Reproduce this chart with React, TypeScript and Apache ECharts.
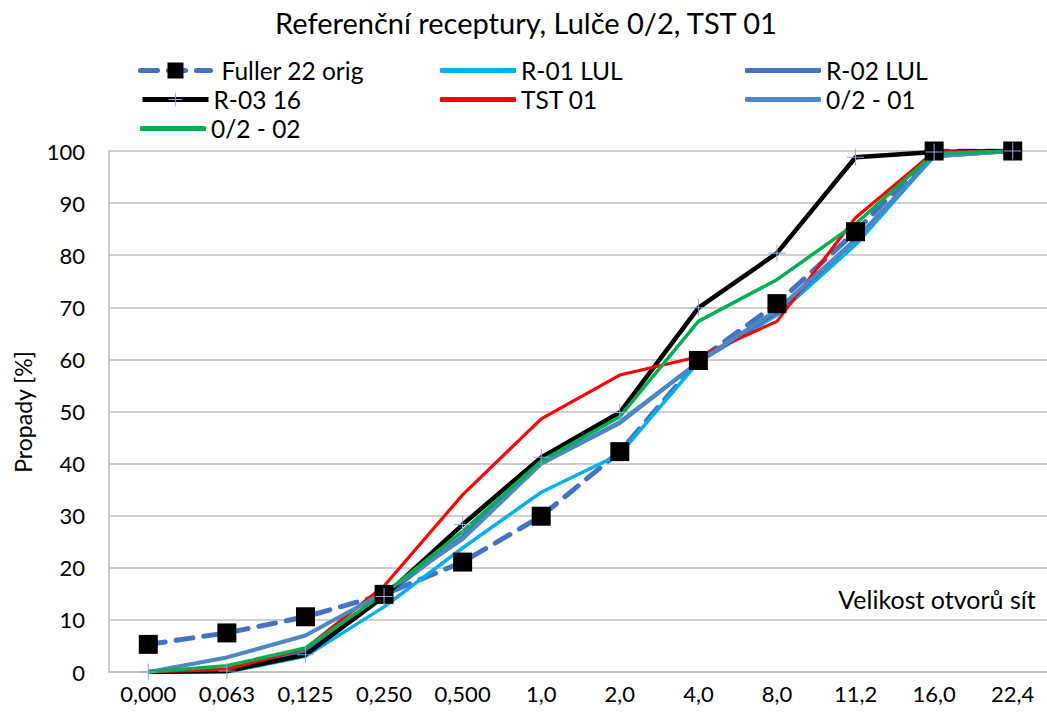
import React, { useEffect, useRef } from "react";
import * as echarts from "echarts";

const categories = ["0,000", "0,063", "0,125", "0,250", "0,500", "1,0", "2,0", "4,0", "8,0", "11,2", "16,0", "22,4"];
const fuller = [5.3, 7.5, 10.6, 14.9, 21.1, 29.9, 42.3, 59.8, 70.7, 84.5, 100, 100];
const r01 = [0, 0, 3.0, 12.5, 23.8, 34.5, 41.8, 59.5, 68.5, 82.0, 99.0, 100];
const r02 = [0, 0.5, 4.0, 14.5, 26.0, 40.0, 47.8, 59.5, 69.0, 83.0, 99.0, 100];
const r03 = [0, 0.2, 3.3, 14.5, 28.3, 41.2, 49.8, 69.9, 80.4, 98.8, 99.8, 100];
const tst01 = [0, 0.5, 4.5, 16.5, 34.0, 48.6, 57.0, 60.5, 67.3, 87.2, 99.8, 100];
const o201 = [0, 2.8, 7.0, 15.2, 25.5, 40.0, 48.0, 59.5, 69.5, 83.0, 99.0, 100];
const o202 = [0, 1.2, 4.6, 15.0, 27.0, 40.5, 49.0, 67.3, 75.3, 86.0, 99.5, 100];

const FONT = "Lato, 'Noto Sans', sans-serif";
const PLUS = "path://M9.4,0h1.2v9.4h9.4v1.2h-9.4v9.4h-1.2v-9.4h-9.4v-1.2h9.4z";

export default function App() {
  const ref = useRef<HTMLDivElement>(null);
  useEffect(() => {
    if (!ref.current) return;
    const chart = echarts.init(ref.current, null, { renderer: "svg" });
    const legendText = { fontFamily: FONT, fontSize: 24.5, color: "#000" };
    const mkLegend = (name: string, left: number, top: number, w: number, opts: any = {}) => ({
      data: [name],
      left,
      top,
      itemWidth: w,
      itemHeight: 5,
      itemGap: 0,
      padding: 0,
      icon: "roundRect",
      textStyle: { ...legendText },
      ...opts,
    });
    const line = (name: string, data: number[], color: string, width: number, extra: any = {}) => ({
      name,
      type: "line",
      data,
      symbol: "none",
      lineStyle: { color, width },
      itemStyle: { color },
      ...extra,
    });
    chart.setOption({
      animation: false,
      title: {
        text: "Referenční receptury, Lulče 0/2, TST 01",
        left: "center",
        top: 3,
        padding: [5, 10, 5, 0],
        textStyle: { fontFamily: FONT, fontSize: 29, fontWeight: "normal", color: "#000" },
      },
      legend: [
        mkLegend("Fuller 22 orig", 138, 58, 70, {
          icon: undefined,
          itemHeight: 20,
          lineStyle: { width: 5 },
          textStyle: { ...legendText, padding: [0, 0, 0, 6] },
        }),
        mkLegend("R-01 LUL", 440, 58, 76),
        mkLegend("R-02 LUL", 745, 58, 76),
        mkLegend("R-03 16", 140, 87, 66, {
          icon: undefined,
          itemHeight: 17,
          lineStyle: { width: 5 },
        }),
        mkLegend("TST 01", 440, 87, 76),
        mkLegend("0/2 - 01", 745, 87, 76),
        mkLegend("0/2 - 02", 140, 116, 66),
      ],
      grid: { left: 109, right: 0, top: 151, bottom: 50, containLabel: false },
      xAxis: {
        type: "category",
        data: categories,
        boundaryGap: true,
        axisLine: { lineStyle: { color: "#BFBFBF", width: 1.5 } },
        axisTick: { show: false },
        axisLabel: { fontFamily: FONT, fontSize: 22, color: "#000", margin: 10, interval: 0 },
        splitLine: { show: false },
      },
      yAxis: {
        type: "value",
        min: 0,
        max: 100,
        interval: 10,
        axisLine: { show: true, lineStyle: { color: "#BFBFBF", width: 1.5 } },
        axisTick: { show: false },
        axisLabel: { fontFamily: FONT, fontSize: 22, color: "#000", margin: 24 },
        splitLine: { lineStyle: { color: "#BFBFBF", width: 1.5 } },
      },
      graphic: [
        {
          type: "text",
          x: 23,
          y: 412,
          rotation: Math.PI / 2,
          style: {
            text: "Propady [%]",
            fontFamily: FONT,
            fontSize: 23,
            fill: "#000",
            textAlign: "center",
            textVerticalAlign: "middle",
          },
        },
        {
          type: "text",
          x: 937,
          y: 599,
          style: {
            text: "Velikost otvorů sít",
            fontFamily: FONT,
            fontSize: 25,
            fill: "#000",
            textAlign: "center",
            textVerticalAlign: "middle",
          },
        },
      ],
      series: [
        {
          name: "Fuller 22 orig",
          type: "line",
          data: fuller,
          symbol: "rect",
          symbolSize: 19,
          itemStyle: { color: "#000" },
          lineStyle: { color: "#4472C4", width: 5, type: [17, 11], cap: "round" },
        },
        line("R-01 LUL", r01, "#00B0F0", 3.5),
        line("R-02 LUL", r02, "#4472C4", 4),
        line("R-03 16", r03, "#000000", 4.5, {
          symbol: PLUS,
          symbolSize: 17,
          itemStyle: { color: "#8EA9DB" },
          lineStyle: { color: "#000", width: 4.5 },
        }),
        line("TST 01", tst01, "#FF0000", 3.2),
        line("0/2 - 01", o201, "#4E88C4", 4),
        line("0/2 - 02", o202, "#00B050", 3.5),
      ],
    });
    return () => chart.dispose();
  }, []);
  return (
    <div style={{ position: "absolute", left: 0, top: 0, width: 1047, height: 722, overflow: "hidden" }}>
      <div ref={ref} style={{ width: 1052, height: 722 }} />
    </div>
  );
}
